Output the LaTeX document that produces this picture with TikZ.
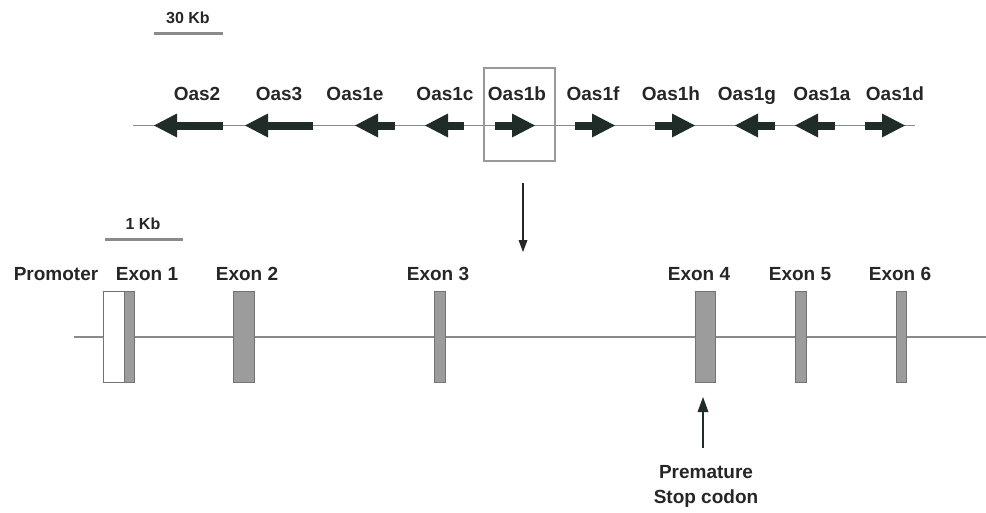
\documentclass[tikz,border=0pt]{standalone}
\usepackage{fontspec}
\setmainfont{Liberation Sans}
\usepackage{xcolor}
\usepackage{tikz}
\usetikzlibrary{arrows.meta,positioning}

\definecolor{genegreen}{HTML}{1F2C28}
\definecolor{axisgray}{HTML}{8A8A8A}
\definecolor{exongray}{HTML}{9C9C9C}
\definecolor{inkgray}{HTML}{262626}

\begin{document}
\begin{tikzpicture}[
  x=1pt, y=-1pt,
  lbl/.style={font=\fontsize{19}{22}\selectfont\bfseries, text=inkgray, inner sep=0pt, anchor=base},
  scl/.style={font=\fontsize{16}{19}\selectfont\bfseries, text=inkgray, inner sep=0pt, anchor=base},
  bar/.style={draw=axisgray, line width=3pt},
  chrom/.style={draw=axisgray, line width=1.5pt},
  gene/.style={draw=genegreen, line width=8pt, -{Triangle[length=23pt, width=24pt, line width=0pt]}},
  exon/.style={rectangle, draw=black!55, fill=exongray, line width=1pt, minimum width=#1, minimum height=91pt, inner sep=0pt},
  prom/.style={rectangle, draw=black!55, fill=white, line width=1pt, minimum width=21pt, minimum height=91pt, inner sep=0pt},
  selbox/.style={rectangle, draw=black!40, line width=2.5pt, minimum width=71pt, minimum height=93pt, inner sep=0pt},
  arr/.style={draw=inkgray, line width=1.2pt, -{Triangle[length=12pt, width=9pt, line width=0pt]}},
  stoparr/.style={draw=genegreen, line width=2.2pt, -{Triangle[length=15pt, width=11pt, line width=0pt]}}
]
  \useasboundingbox (0,0) rectangle (986,512);

  % top row: the Oas cluster
  \node[scl] (kb30) at (188,23) {30 Kb};
  \draw[bar] (154,33) -- (223,33);

  \draw[chrom] (133,125.5) -- (915,125.5);

  \node[lbl] (oas2)  at (197,100) {Oas2};
  \node[lbl] (oas3)  at (279,100) {Oas3};
  \node[lbl] (oas1e) at (355,100) {Oas1e};
  \node[lbl] (oas1c) at (445,100) {Oas1c};
  \node[lbl] (oas1b) at (517,100) {Oas1b};
  \node[lbl] (oas1f) at (593,100) {Oas1f};
  \node[lbl] (oas1h) at (671,100) {Oas1h};
  \node[lbl] (oas1g) at (747,100) {Oas1g};
  \node[lbl] (oas1a) at (822,100) {Oas1a};
  \node[lbl] (oas1d) at (895,100) {Oas1d};

  \draw[gene] (223,125.5) -- (154,125.5);
  \draw[gene] (313,125.5) -- (245,125.5);
  \draw[gene] (395,125.5) -- (355,125.5);
  \draw[gene] (464,125.5) -- (425,125.5);
  \draw[gene] (495,125.5) -- (535,125.5);
  \draw[gene] (575,125.5) -- (615,125.5);
  \draw[gene] (655,125.5) -- (695,125.5);
  \draw[gene] (775,125.5) -- (735,125.5);
  \draw[gene] (835,125.5) -- (795,125.5);
  \draw[gene] (865,125.5) -- (905,125.5);

  \node[selbox] (sel) at (519.5,114.5) {};
  \coordinate (zoomin) at (523,252);
  \draw[arr] (523,183) -- (zoomin);

  % bottom row: Oas1b gene structure
  \node[scl] (kb1) at (143,229) {1 Kb};
  \draw[bar] (105,239) -- (183,239);

  \draw[chrom] (74,337) -- (986,337);

  \node[prom] (pr)  at (113.5,337) {};
  \node[exon=10pt] (ex1) at (129,337) {};
  \node[exon=21pt] (ex2) at (243.5,337) {};
  \node[exon=11pt] (ex3) at (439.5,337) {};
  \node[exon=20pt] (ex4) at (705,337) {};
  \node[exon=11pt] (ex5) at (800.5,337) {};
  \node[exon=10pt] (ex6) at (901,337) {};

  \node[lbl] (lpr) at (56,280) {Promoter};
  \node[lbl] (l1)  at (147,280) {Exon 1};
  \node[lbl] (l2)  at (247,280) {Exon 2};
  \node[lbl] (l3)  at (438,280) {Exon 3};
  \node[lbl] (l4)  at (699,280) {Exon 4};
  \node[lbl] (l5)  at (800,280) {Exon 5};
  \node[lbl] (l6)  at (900,280) {Exon 6};

  \node[lbl, anchor=north, align=center, font=\fontsize{19}{25}\selectfont\bfseries] (stop) at (706,465) {Premature\\Stop codon};
  \draw[stoparr] ([xshift=-3pt,yshift=17pt]stop.north) -- ([xshift=-2pt,yshift=-14pt]ex4.south);
\end{tikzpicture}
\end{document}
